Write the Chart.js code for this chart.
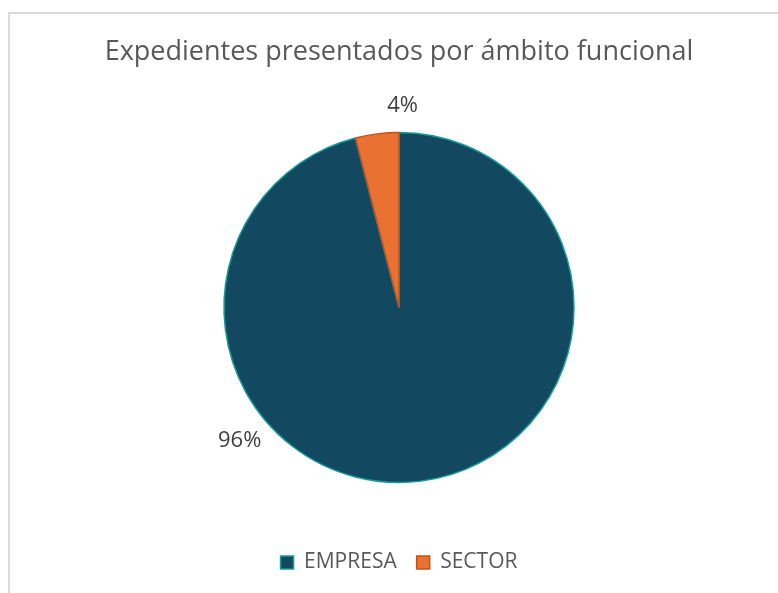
<!DOCTYPE html>
<html>
<head>
<meta charset="utf-8">
<script src="https://cdn.jsdelivr.net/npm/chart.js@4.4.1/dist/chart.umd.min.js"></script>
<style>
	html,body{margin:0;padding:0;background:#fff;overflow:hidden;}
	#frame{position:absolute;left:8px;top:12px;width:800px;height:620px;border-left:2px solid #d9d9d9;border-top:2px solid #d9d9d9;}
	#wrap{position:absolute;left:0;top:0;width:778px;height:593px;}
</style>
</head>
<body>
<div id="frame"></div>
<div id="wrap"><canvas id="pieCanvas"></canvas></div>
<script>
var title = "Expedientes presentados por ámbito funcional";
var categories = ["EMPRESA","SECTOR"];
var values = [96,4];
var percentLabels = ["96%","4%"];

var fills = ["#134960","#E97132"];
var borders = ["#169A9A","#C0521A"];
var fontFamily = "'Open Sans', 'Liberation Sans', Arial, sans-serif";

// Excel puts the labels outside, at its own angles (degrees clockwise from top)
var labelPlugin = {
	id:"outsideLabels",
	afterDatasetsDraw:function(chart,args,opts){
		var ctx = chart.ctx;
		var meta = chart.getDatasetMeta(0);
		ctx.save();
		ctx.font = "22px " + fontFamily;
		ctx.fillStyle = "#404040";
		ctx.textAlign = "center";
		ctx.textBaseline = "middle";
		meta.data.forEach(function(arc,i){
			var a = opts.angles[i]*Math.PI/180;
			var r = arc.outerRadius + opts.offsets[i];
			var x = arc.x + Math.sin(a)*r;
			var y = arc.y - Math.cos(a)*r;
			ctx.fillText(percentLabels[i],x,y);
		});
		ctx.restore();
	}
};

var ctx = document.getElementById("pieCanvas");
var pieChart = new Chart(ctx,{
	type:"pie",
	data:{
		labels:categories,
		datasets:[
			{
				data:values,
				backgroundColor:fills,
				borderColor:borders,
				borderWidth:1.5,
				radius:175
			}
		]
	},
	options:{
		responsive:true,
		maintainAspectRatio:false,
		animation:false,
		layout:{padding:{top:0,bottom:10,left:20}},
		plugins:{
			title:{
				display:true,
				text:title,
				color:"#595959",
				font:{size:27,family:fontFamily,weight:"normal"},
				padding:{top:36,bottom:14.6}
			},
			legend:{
				position:"bottom",
				labels:{
					color:"#595959",
					font:{size:21,family:fontFamily},
					boxWidth:13,
					boxHeight:13,
					padding:20
				}
			},
			tooltip:{enabled:false},
			outsideLabels:{angles:[230,1],offsets:[33,27]}
		}
	},
	plugins:[labelPlugin]
});
</script>
</body>
</html>
